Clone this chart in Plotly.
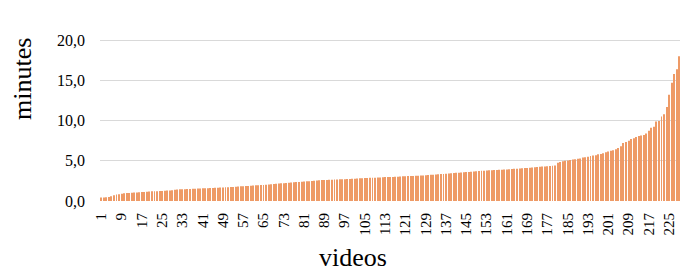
import plotly.graph_objects as go

minutes = [
    0.45, 0.45, 0.47, 0.5, 0.6, 0.7, 0.8, 0.85,
    0.9, 0.95, 1.0, 1.0, 1.02, 1.05, 1.07, 1.1,
    1.12, 1.13, 1.15, 1.17, 1.2, 1.2, 1.22, 1.25,
    1.25, 1.27, 1.3, 1.32, 1.35, 1.4, 1.42, 1.45,
    1.46, 1.47, 1.48, 1.5, 1.52, 1.53, 1.55, 1.57,
    1.58, 1.6, 1.6, 1.62, 1.63, 1.65, 1.65, 1.67,
    1.67, 1.7, 1.72, 1.73, 1.75, 1.77, 1.8, 1.82,
    1.84, 1.86, 1.88, 1.9, 1.92, 1.95, 1.97, 2.0,
    2.0, 2.03, 2.05, 2.08, 2.12, 2.15, 2.18, 2.2,
    2.22, 2.25, 2.28, 2.3, 2.32, 2.35, 2.37, 2.4,
    2.42, 2.45, 2.47, 2.5, 2.52, 2.55, 2.57, 2.6,
    2.6, 2.62, 2.63, 2.65, 2.67, 2.68, 2.7, 2.7,
    2.72, 2.73, 2.75, 2.77, 2.78, 2.8, 2.82, 2.83,
    2.85, 2.87, 2.88, 2.9, 2.9, 2.92, 2.93, 2.95,
    2.97, 2.98, 3.0, 3.0, 3.02, 3.03, 3.05, 3.07,
    3.08, 3.1, 3.1, 3.12, 3.13, 3.15, 3.17, 3.18,
    3.2, 3.22, 3.25, 3.27, 3.3, 3.32, 3.35, 3.37,
    3.4, 3.42, 3.45, 3.47, 3.5, 3.52, 3.55, 3.58,
    3.6, 3.62, 3.65, 3.67, 3.7, 3.72, 3.75, 3.77,
    3.8, 3.82, 3.84, 3.85, 3.87, 3.88, 3.9, 3.92,
    3.93, 3.95, 3.97, 4.0, 4.02, 4.05, 4.07, 4.1,
    4.12, 4.15, 4.18, 4.2, 4.22, 4.25, 4.28, 4.3,
    4.32, 4.35, 4.38, 4.4, 4.75, 4.85, 4.95, 5.0,
    5.05, 5.1, 5.15, 5.2, 5.25, 5.3, 5.4, 5.45,
    5.5, 5.6, 5.65, 5.7, 5.8, 5.85, 5.95, 6.05,
    6.15, 6.25, 6.3, 6.45, 6.6, 6.8, 7.2, 7.35,
    7.5, 7.7, 7.8, 7.95, 8.1, 8.15, 8.2, 8.4,
    8.75, 9.1, 9.25, 9.9, 9.95, 10.5, 10.8, 11.7,
    13.2, 14.7, 15.8, 16.4, 18.0,
]
videos = list(range(1, len(minutes) + 1))
x_ticks = list(range(1, len(minutes) + 1, 8))
y_ticks = [0, 5, 10, 15, 20]
y_tick_labels = ["0,0", "5,0", "10,0", "15,0", "20,0"]

W, H = 680, 272
L, R, T, B = 100, 0, 0, 71
pw, ph = W - L - R, H - T - B

fig = go.Figure(go.Bar(
    x=videos, y=minutes,
    marker=dict(color="#EE9A66", line=dict(width=0)),
    hoverinfo="x+y",
))

font_family = "Liberation Serif"

fig.update_layout(
    width=W, height=H,
    margin=dict(l=L, r=R, t=T, b=B, autoexpand=False),
    paper_bgcolor="white", plot_bgcolor="white",
    bargap=0.62,
    showlegend=False,
    font=dict(family=font_family, color="black"),
    xaxis=dict(
        range=[0.5, 229.3], automargin=False,
        tickmode="array", tickvals=x_ticks, ticktext=[str(v) for v in x_ticks],
        tickangle=-90, tickfont=dict(size=15, family=font_family, color="black"),
        showgrid=False, zeroline=False,
        showline=False, ticks="", ticklabelstandoff=8,
    ),
    yaxis=dict(
        range=[0, 25], automargin=False,
        tickmode="array", tickvals=y_ticks, ticktext=y_tick_labels,
        tickfont=dict(size=16, family=font_family, color="black"),
        showgrid=True, gridcolor="#d9d9d9", gridwidth=1,
        zeroline=False, showline=False, ticks="", ticklabelstandoff=14,
    ),
    annotations=[
        dict(text="minutes", xref="paper", yref="paper",
             x=(22 - L) / pw, y=(T + ph - 79) / ph,
             xanchor="center", yanchor="middle", textangle=-90,
             showarrow=False, font=dict(size=26, family=font_family, color="black")),
        dict(text="videos", xref="paper", yref="paper",
             x=(353 - L) / pw, y=(T + ph - 257) / ph,
             xanchor="center", yanchor="middle",
             showarrow=False, font=dict(size=26, family=font_family, color="black")),
    ],
)

fig.write_html(
    "out.html",
    config={"displayModeBar": False},
    post_script="document.body.style.margin='0';document.body.style.overflow='hidden';",
)
